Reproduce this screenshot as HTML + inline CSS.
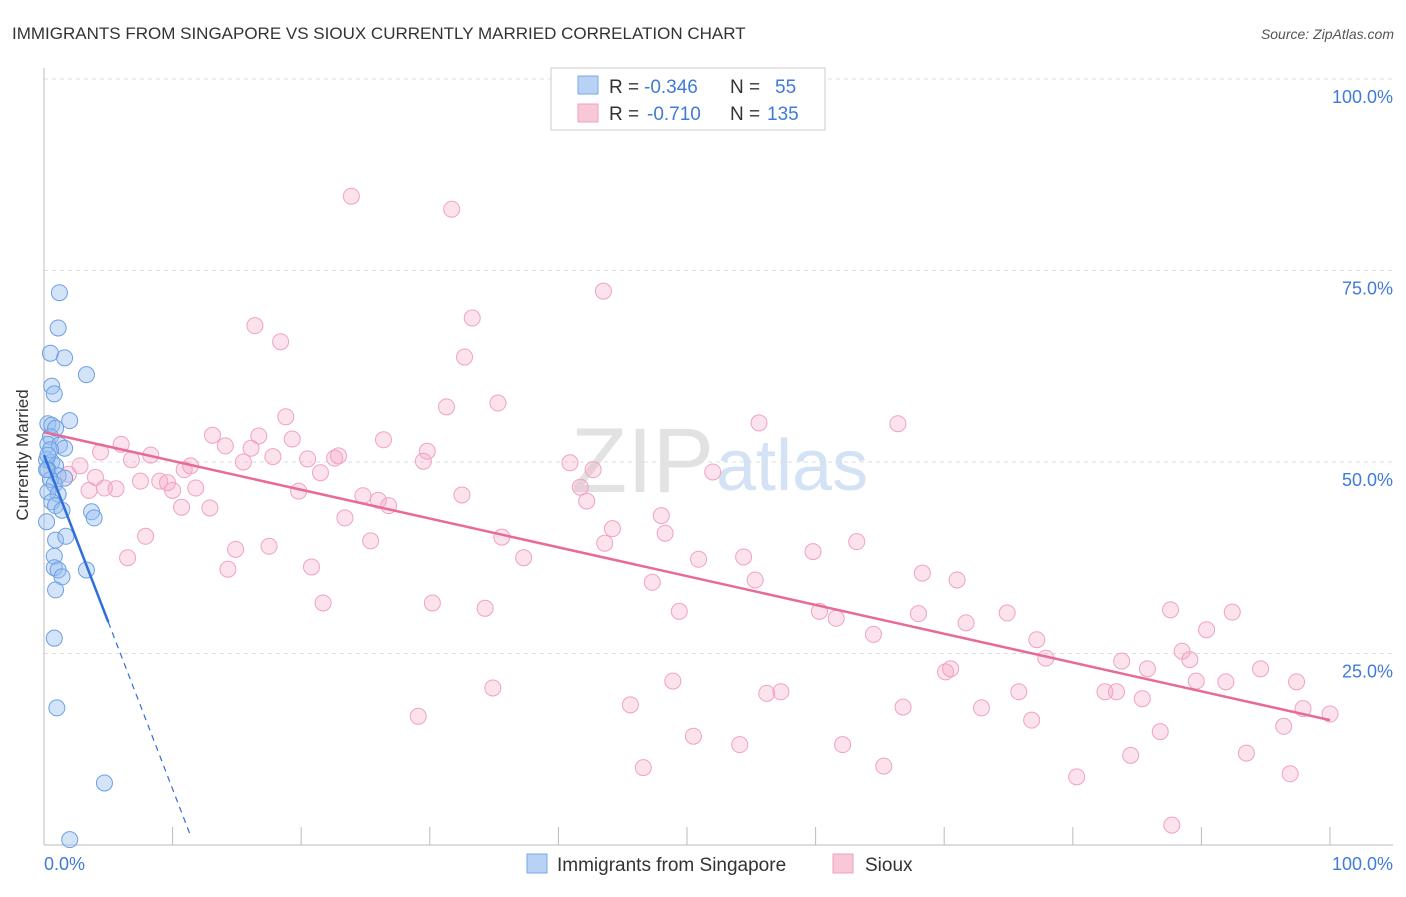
<!DOCTYPE html>
<html><head><meta charset="utf-8"><style>
body{margin:0;background:#fff;font-family:"Liberation Sans",sans-serif}
svg text{font-family:"Liberation Sans",sans-serif}
</style></head><body>
<svg id="chart" width="1406" height="892" xmlns="http://www.w3.org/2000/svg">
<text x="12" y="39" font-size="17" fill="#333">IMMIGRANTS FROM SINGAPORE VS SIOUX CURRENTLY MARRIED CORRELATION CHART</text>
<text x="1394" y="39" font-size="14" fill="#555" font-style="italic" text-anchor="end">Source: ZipAtlas.com</text>
<text x="714" y="492" font-size="92" fill="#e2e2e2" text-anchor="end" font-family="Liberation Serif">ZIP</text>
<text x="716" y="490" font-size="72" fill="#d3e2f4">atlas</text>
<g id="grid"></g><g id="axes"></g><g id="pts"></g><g id="trend"></g>
<text x="28" y="455" font-size="17" fill="#333" text-anchor="middle" transform="rotate(-90 28 455)">Currently Married</text>
<g>
<rect x="551" y="68" width="274" height="62" fill="#fff" stroke="#ccc"/>
<rect x="578" y="76" width="20" height="18" fill="#b7d2f5" stroke="#7aa8e6"/>
<rect x="578" y="104" width="20" height="18" fill="#f9c8d8" stroke="#eea0bc"/>
<text x="609" y="93" font-size="19" fill="#333">R =</text>
<text x="644" y="93" font-size="19" fill="#3f7bd8">-0.346</text>
<text x="730" y="93" font-size="19" fill="#333">N =</text>
<text x="775" y="93" font-size="19" fill="#3f7bd8">55</text>
<text x="609" y="120" font-size="19" fill="#333">R =</text>
<text x="647" y="120" font-size="19" fill="#3f7bd8">-0.710</text>
<text x="730" y="120" font-size="19" fill="#333">N =</text>
<text x="767" y="120" font-size="19" fill="#3f7bd8">135</text>
</g>
<g>
<rect x="527" y="854" width="20" height="19" fill="#b7d2f5" stroke="#7aa8e6"/>
<text x="557" y="871" font-size="19" fill="#333">Immigrants from Singapore</text>
<rect x="833" y="854" width="20" height="19" fill="#f9c8d8" stroke="#eea0bc"/>
<text x="865" y="871" font-size="19" fill="#333">Sioux</text>
</g>
</svg>
<script>
const yTicks=[25,50,75,100];
const yTickLabels=["25.0%","50.0%","75.0%","100.0%"];
const xTicks=[0,10,20,30,40,50,60,70,80,90,100];
const blueX=[1.2,1.1,0.5,1.6,3.3,0.6,0.8,2.0,0.3,0.6,0.9,0.5,0.3,1.2,1.6,0.2,0.6,0.9,0.3,1.1,1.6,0.5,0.8,0.3,1.1,0.6,0.9,1.4,3.7,3.9,0.2,0.9,1.7,0.8,0.8,3.3,1.1,1.4,0.9,0.8,1.0,4.7,2.0,0.2,0.5,0.3];
const blueY=[72.1,67.5,64.2,63.6,61.4,59.9,58.9,55.4,55.0,54.8,54.4,53.3,52.3,52.2,51.8,50.3,50.0,49.5,49.0,48.2,47.9,47.7,47.1,46.1,45.8,44.8,44.3,43.7,43.5,42.7,42.2,39.8,40.3,37.7,36.2,35.9,35.9,35.0,33.3,27.0,17.9,8.1,0.7,49.0,51.6,50.9];
const pinkX=[23.9,31.7,43.5,33.3,16.4,18.4,32.7,35.3,31.3,18.8,55.6,66.4,13.1,16.7,19.3,6.0,26.4,29.8,16.1,14.1,4.4,22.6,22.9,20.5,8.3,6.8,17.8,15.5,29.5,40.9,42.7,52.0,10.9,11.4,2.8,21.5,4.0,1.9,7.5,9.0,9.6,4.7,5.6,3.5,11.8,19.8,10.0,41.7,24.8,26.0,32.5,26.8,42.2,10.7,12.9,44.2,48.0,23.4,7.9,25.4,35.6,48.3,43.6,14.9,17.5,37.3,6.5,14.3,20.8,50.9,54.4,59.8,63.2,68.3,55.3,71.0,47.3,21.7,30.2,34.3,49.4,60.3,61.6,68.0,74.9,87.6,92.4,64.5,71.7,77.2,90.4,77.9,83.8,88.5,89.1,94.6,70.1,70.5,48.9,85.8,34.9,56.2,57.3,75.8,82.5,83.4,85.4,89.6,91.9,97.4,45.6,66.8,72.9,29.1,76.8,97.9,100,96.4,50.5,54.1,62.1,86.8,84.5,93.5,46.6,65.3,80.3,96.9,87.7];
const pinkY=[84.7,83.0,72.3,68.8,67.8,65.7,63.7,57.7,57.2,55.9,55.1,55.0,53.5,53.4,53.0,52.3,52.9,51.4,51.8,52.1,51.3,50.5,50.8,50.4,50.9,50.3,50.7,50.0,50.1,49.9,49.0,48.7,49.0,49.5,49.5,48.6,48.0,48.4,47.5,47.5,47.3,46.6,46.5,46.3,46.6,46.2,46.3,46.7,45.6,45.0,45.7,44.3,44.9,44.1,44.0,41.3,43.0,42.7,40.3,39.7,40.2,40.7,39.4,38.6,39.0,37.5,37.5,36.0,36.3,37.3,37.6,38.3,39.6,35.5,34.6,34.6,34.3,31.6,31.6,30.9,30.5,30.5,29.6,30.2,30.3,30.7,30.4,27.5,29.0,26.8,28.1,24.4,24.0,25.3,24.2,23.0,22.6,23.0,21.4,23.0,20.5,19.8,20.0,20.0,20.0,20.0,19.1,21.4,21.3,21.3,18.3,18.0,17.9,16.8,16.3,17.8,17.1,15.5,14.2,13.1,13.1,14.8,11.7,12.0,10.1,10.3,8.9,9.3,2.6];
const pinkTrend=[53.9,16.3];
const blueTrend=[50.9,4.36];
const NS="http://www.w3.org/2000/svg";
const X=v=>44+v*12.86, Y=v=>845-v*7.66;
function mk(p,t,a){const e=document.createElementNS(NS,t);for(const k in a)e.setAttribute(k,a[k]);document.getElementById(p).appendChild(e);return e;}
yTicks.forEach((t,i)=>{
 const g=mk('grid','line',{x1:44,x2:1393,y1:Y(t),y2:Y(t),stroke:'#ddd','stroke-dasharray':'4,4'});
 
 
 const l=mk('grid','text',{x:1393,y:Y(t)+24,'font-size':18,fill:'#3f7bd8','text-anchor':'end'});
 l.textContent=yTickLabels[i];
 
 
});
const ya=mk('axes','line',{x1:44,x2:44,y1:68,y2:845,stroke:'#bbb'});


const xa=mk('axes','line',{x1:44,x2:1393,y1:845,y2:845,stroke:'#bbb'});


xTicks.forEach(t=>{
 const k=mk('axes','line',{x1:X(t),x2:X(t),y1:827,y2:845,stroke:'#bbb'});
 
 
});
const x0=mk('axes','text',{x:44,y:870,'font-size':18,fill:'#3f7bd8'});x0.textContent='0.0%';


const x1=mk('axes','text',{x:1393,y:870,'font-size':18,fill:'#3f7bd8','text-anchor':'end'});x1.textContent='100.0%';


pinkX.forEach((v,i)=>{
 const c=mk('pts','circle',{cx:X(v),cy:Y(pinkY[i]),r:8,fill:'rgba(245,165,195,0.32)',stroke:'#efa3c0','stroke-width':1});
 
 
});
blueX.forEach((v,i)=>{
 const c=mk('pts','circle',{cx:X(v),cy:Y(blueY[i]),r:8,fill:'rgba(150,190,240,0.42)',stroke:'#6d9fe3','stroke-width':1});
 
 
});
const pt=mk('trend','line',{x1:X(0),y1:Y(pinkTrend[0]),x2:X(100),y2:Y(pinkTrend[1]),stroke:'#e86a98','stroke-width':2.5});


const bEnd=5.0,bDash=11.4;
const bt=mk('trend','line',{x1:X(0),y1:Y(blueTrend[0]),x2:X(bEnd),y2:Y(blueTrend[0]-blueTrend[1]*bEnd),stroke:'#2f6fd8','stroke-width':2.5});


const bd=mk('trend','line',{x1:X(bEnd),y1:Y(blueTrend[0]-blueTrend[1]*bEnd),x2:X(bDash),y2:Y(blueTrend[0]-blueTrend[1]*bDash),stroke:'#2f6fd8','stroke-width':1.2,'stroke-dasharray':'6,5'});


</script>
</body></html>
